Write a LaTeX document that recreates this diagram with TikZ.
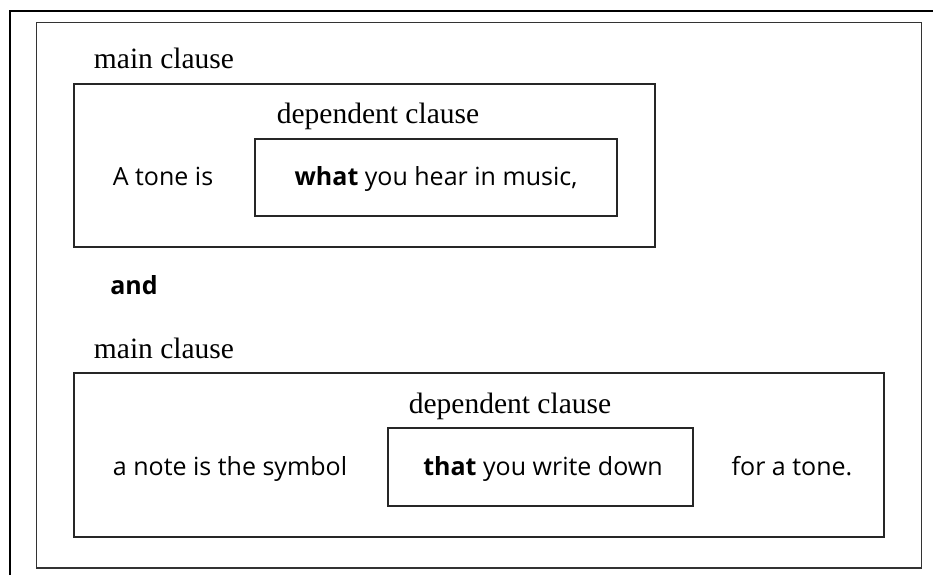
\documentclass[tikz,border=0pt]{standalone}
\usepackage{fontspec}
\setmainfont{Liberation Serif}
\newfontfamily\phrasefont{Open Sans}
\usetikzlibrary{positioning}

\tikzset{
  frameline/.style={line width=1.6pt, draw=black},
  clausebox/.style={draw=black!85, line width=1.3pt, inner sep=0pt},
  clauselabel/.style={anchor=base, inner sep=0pt, font=\fontsize{29.5}{32}\selectfont},
  phrase/.style={anchor=base, inner sep=0pt, font=\phrasefont\fontsize{25}{28}\selectfont},
}

\begin{document}
\begin{tikzpicture}[x=1pt, y=-1pt]
  \useasboundingbox (0,0) rectangle (933,575);
  % page frames
  \draw[frameline] (10,575) -- (10,11) -- (933,11);
  \draw[frameline, draw=black!80] (36.5,22.5) rectangle (921.5,568);

  % first sentence
  \node[clausebox, minimum width=581pt, minimum height=163pt] (main1) at (364.5,165.5) {};
  \node[clausebox, minimum width=362pt, minimum height=77pt] (dep1) at (436,177.5) {};
  \node[clauselabel] (mainlabel1) at (164,69) {main clause};
  \node[clauselabel] (deplabel1) at (378,123) {dependent clause};
  \node[phrase] (tone) at (163,185) {A tone is};
  \node[phrase] (what) at (436,185) {\textbf{what} you hear in music,};

  \node[phrase] (and) at (134,294) {\textbf{and}};

  % second sentence
  \node[clausebox, minimum width=810pt, minimum height=164pt] (main2) at (479,455) {};
  \node[clausebox, minimum width=305pt, minimum height=78pt] (dep2) at (540.5,467) {};
  \node[clauselabel] (mainlabel2) at (164,358) {main clause};
  \node[clauselabel] (deplabel2) at (510,413) {dependent clause};
  \node[phrase] (note) at (230,475) {a note is the symbol};
  \node[phrase] (that) at (543,475) {\textbf{that} you write down};
  \node[phrase] (fortone) at (792,475) {for a tone.};
\end{tikzpicture}
\end{document}
